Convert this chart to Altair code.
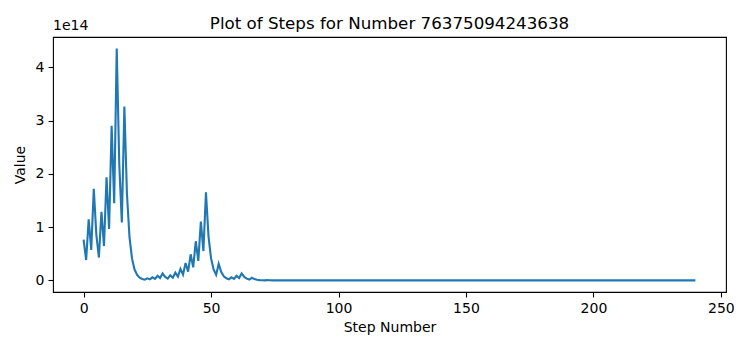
import altair as alt
import pandas as pd

title_text = "Plot of Steps for Number 76375094243638"

values = [
    76375094243638, 38187547121819, 114562641365458, 57281320682729, 171843962048188,
    85921981024094, 42960990512047, 128882971536142, 64441485768071, 193324457304214,
    96662228652107, 289986685956322, 144993342978161, 434980028934484, 217490014467242,
    108745007233621, 326235021700864, 163117510850432, 81558755425216, 40779377712608,
    20389688856304, 10194844428152, 5097422214076, 2548711107038, 1274355553519,
    3823066660558, 1911533330279, 5734599990838, 2867299995419, 8601899986258,
    4300949993129, 12902849979388, 6451424989694, 3225712494847, 9677137484542,
    4838568742271, 14515706226814, 7257853113407, 21773559340222, 10886779670111,
    32660339010334, 16330169505167, 48990508515502, 24495254257751, 73485762773254,
    36742881386627, 110228644159882, 55114322079941, 165342966239824, 82671483119912,
    41335741559956, 20667870779978, 10333935389989, 31001806169968, 15500903084984,
    7750451542492, 3875225771246, 1937612885623, 5812838656870, 2906419328435,
    8719257985306, 4359628992653, 13078886977960, 6539443488980, 3269721744490,
    1634860872245, 4904582616736, 2452291308368, 1226145654184, 613072827092,
    306536413546, 153268206773, 459804620320, 229902310160, 114951155080,
    57475577540, 28737788770, 14368894385, 43106683156, 21553341578,
    10776670789, 32330012368, 16165006184, 8082503092, 4041251546,
    2020625773, 6061877320, 3030938660, 1515469330, 757734665,
    2273203996, 1136601998, 568300999, 1704902998, 852451499,
    2557354498, 1278677249, 3836031748, 1918015874, 959007937,
    2877023812, 1438511906, 719255953, 2157767860, 1078883930,
    539441965, 1618325896, 809162948, 404581474, 202290737,
    606872212, 303436106, 151718053, 455154160, 227577080,
    113788540, 56894270, 28447135, 85341406, 42670703,
    128012110, 64006055, 192018166, 96009083, 288027250,
    144013625, 432040876, 216020438, 108010219, 324030658,
    162015329, 486045988, 243022994, 121511497, 364534492,
    182267246, 91133623, 273400870, 136700435, 410101306,
    205050653, 615151960, 307575980, 153787990, 76893995,
    230681986, 115340993, 346022980, 173011490, 86505745,
    259517236, 129758618, 64879309, 194637928, 97318964,
    48659482, 24329741, 72989224, 36494612, 18247306,
    9123653, 27370960, 13685480, 6842740, 3421370,
    1710685, 5132056, 2566028, 1283014, 641507,
    1924522, 962261, 2886784, 1443392, 721696,
    360848, 180424, 90212, 45106, 22553,
    67660, 33830, 16915, 50746, 25373,
    76120, 38060, 19030, 9515, 28546,
    14273, 42820, 21410, 10705, 32116,
    16058, 8029, 24088, 12044, 6022,
    3011, 9034, 4517, 13552, 6776,
    3388, 1694, 847, 2542, 1271,
    3814, 1907, 5722, 2861, 8584,
    4292, 2146, 1073, 3220, 1610,
    805, 2416, 1208, 604, 302,
    151, 454, 227, 682, 341,
    1024, 512, 256, 128, 64,
    32, 16, 8, 4, 2, 1,
]
steps = list(range(len(values)))

x_ticks = [0, 50, 100, 150, 200, 250]
y_ticks = [0, 1e14, 2e14, 3e14, 4e14]

df = pd.DataFrame({"step": steps, "value": values})

FONT = "DejaVu Sans"
W, H = 673, 255

line = alt.Chart(df).mark_line(color="#1f77b4", strokeWidth=2.1, clip=True).encode(
    x=alt.X("step:Q", scale=alt.Scale(domain=[-12, 252], nice=False, zero=False),
            axis=alt.Axis(values=x_ticks, title="Step Number", format="d")),
    y=alt.Y("value:Q", scale=alt.Scale(domain=[-0.2175e14, 4.5673e14], nice=False, zero=False),
            axis=alt.Axis(values=y_ticks, title="Value",
                          labelExpr="format(datum.value/1e14, 'd')")),
)

offset_label = alt.Chart(pd.DataFrame({"t": ["1e14"]})).mark_text(
    align="left", baseline="bottom", font=FONT, fontSize=14, color="black"
).encode(x=alt.value(0), y=alt.value(-4), text="t:N")

title_mark = alt.Chart(pd.DataFrame({"t": [title_text]})).mark_text(
    align="center", baseline="alphabetic", font=FONT, fontSize=16.7, color="black"
).encode(x=alt.value(W / 2), y=alt.value(-8.5), text="t:N")

chart = alt.layer(line, offset_label, title_mark).properties(
    width=W, height=H,
    autosize=alt.AutoSizeParams(type="none"),
    padding={"left": 53, "top": 37, "right": 24, "bottom": 58},
).configure_view(stroke="black", strokeWidth=1.1).configure_axis(
    grid=False, domain=False, tickColor="black", tickSize=5, tickWidth=1.1,
    labelFont=FONT, labelFontSize=14, labelColor="black", labelPadding=4,
    titleFont=FONT, titleFontSize=14, titleFontWeight="normal", titleColor="black",
).configure_axisX(titlePadding=5, labelAngle=0).configure_axisY(titlePadding=8, labelAngle=0)

chart.save("out.html", embed_options={"renderer": "svg", "actions": False})
